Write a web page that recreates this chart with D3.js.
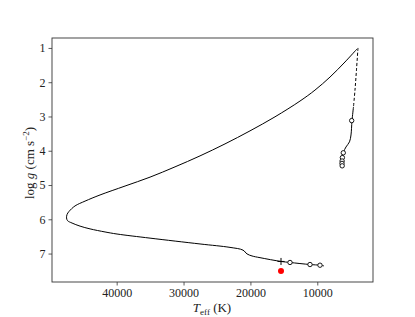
<!DOCTYPE html>
<html><head><meta charset="utf-8">
<script src="https://cdn.jsdelivr.net/npm/d3@7"></script>
<style>body{margin:0;background:#fff}svg{display:block}text{font-family:"Liberation Serif","DejaVu Serif",serif;fill:#222}</style>
</head><body><svg id="c" width="415" height="317"></svg>
<script>
// main track (solid): Teff (K), log g
const trackTeff = [4065,5859,8101,10344,12586,16324,20061,23799,27536,31274,35011,38749,42486,44729,46224,47120,47420,47495,47345,46672,45476,43981,41739,39945,35011,27536,23051,21108,20510,19763,18567,15427,14081,11091,9596,8998];
const trackLogg = [1.03,1.41,1.85,2.23,2.55,3.01,3.42,3.80,4.15,4.47,4.77,5.03,5.29,5.47,5.61,5.77,5.86,5.96,6.04,6.11,6.20,6.28,6.37,6.43,6.55,6.72,6.82,6.90,7.01,7.07,7.12,7.23,7.26,7.32,7.34,7.36];
// dashed segment
const dashTeff = [3915,4140,4364,4588];
const dashLogg = [1.00,1.64,2.23,2.72];
// lower-right solid segment
const rightTeff = [4588,4812,4962,5186,5709,6083,6233,6307,6262];
const rightLogg = [2.72,3.13,3.54,3.74,3.89,4.04,4.18,4.36,4.45];
// open circle markers
const circTeff = [4857,6113,6250,6290,6307,6280,14081,11091,9596];
const circLogg = [3.12,4.06,4.20,4.30,4.37,4.44,7.26,7.32,7.34];
// cross marker and red point
const crossTeff = [15427], crossLogg = [7.23];
const redTeff = [15427], redLogg = [7.51];
// ticks
const xTicks = [40000,30000,20000,10000];
const yTicks = [1,2,3,4,5,6,7];

const svg = d3.select("#c");
const L=52,R=373,T=38,B=282;
const x = d3.scaleLinear().domain([49670,1670]).range([L,R]);
const y = d3.scaleLinear().domain([0.71,7.83]).range([T,B]);
const zip=(a,b)=>a.map((v,i)=>[v,b[i]]);
const line = d3.line().x(d=>x(d[0])).y(d=>y(d[1])).curve(d3.curveCatmullRom.alpha(0.5));

const g = svg.append("g");
g.append("path").datum(zip(trackTeff,trackLogg)).attr("d",line).attr("fill","none").attr("stroke","#000").attr("stroke-width",1);
g.append("path").datum(zip(dashTeff,dashLogg)).attr("d",line).attr("fill","none").attr("stroke","#000").attr("stroke-width",1).attr("stroke-dasharray","3,2");
g.append("path").datum(zip(rightTeff,rightLogg)).attr("d",line).attr("fill","none").attr("stroke","#000").attr("stroke-width",1);
g.selectAll("circle.o").data(zip(circTeff,circLogg)).join("circle").attr("class","o")
  .attr("cx",d=>x(d[0])).attr("cy",d=>y(d[1])).attr("r",2.2).attr("fill","#fff").attr("stroke","#000").attr("stroke-width",0.9);
g.selectAll("path.cross").data(zip(crossTeff,crossLogg)).join("path").attr("class","cross")
  .attr("transform",d=>`translate(${x(d[0])},${y(d[1])})`).attr("d","M-3.5,0H3.5M0,-3.5V3.5").attr("stroke","#000").attr("stroke-width",1);
g.selectAll("circle.r").data(zip(redTeff,redLogg)).join("circle").attr("class","r")
  .attr("cx",d=>x(d[0])).attr("cy",d=>y(d[1])).attr("r",3).attr("fill","#ff0000");

// axes
const xa = svg.append("g").attr("transform",`translate(0,${B})`).call(d3.axisBottom(x).tickValues(xTicks).tickSize(3.5).tickPadding(3).tickFormat(d3.format("d")));
const ya = svg.append("g").attr("transform",`translate(${L},0)`).call(d3.axisLeft(y).tickValues(yTicks).tickSize(3.5).tickPadding(3).tickFormat(d3.format("d")));
[xa,ya].forEach(a=>{a.select(".domain").remove();a.selectAll("line").attr("stroke","#333").attr("stroke-width",0.8);a.selectAll("text").attr("font-family","Liberation Serif").attr("font-size",12).attr("fill","#222");});
svg.append("rect").attr("x",L).attr("y",T).attr("width",R-L).attr("height",B-T).attr("fill","none").attr("stroke","#333").attr("stroke-width",0.9);

// labels
const xl = svg.append("text").attr("x",212).attr("y",312).attr("text-anchor","middle").attr("font-size",13);
xl.append("tspan").attr("font-style","italic").text("T");
xl.append("tspan").attr("font-size",9).attr("dy",3).text("eff");
xl.append("tspan").attr("dy",-3).text(" (K)");
const yl = svg.append("text").attr("transform","translate(34,163) rotate(-90)").attr("text-anchor","middle").attr("font-size",13);
yl.append("tspan").text("log ");
yl.append("tspan").attr("font-style","italic").text("g");
yl.append("tspan").text(" (cm s");
yl.append("tspan").attr("font-size",9).attr("dy",-5).text("−2");
yl.append("tspan").attr("dy",5).text(")");
</script></body></html>
